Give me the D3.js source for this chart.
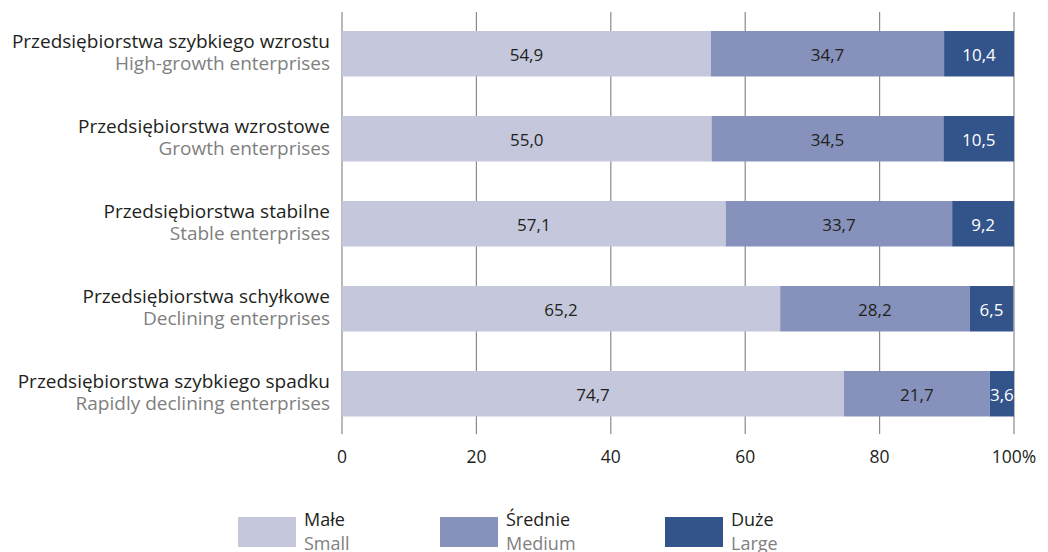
<!DOCTYPE html>
<html>
<head>
<meta charset="utf-8">
<script src="https://cdn.jsdelivr.net/npm/d3@7"></script>
<style>
  body { margin: 0; background: #fff; }
  text { font-family: "Open Sans", sans-serif; }
</style>
</head>
<body>
<div id="root"></div>
<script>
// categories (Polish / English)
var namesPl = ["Przedsiębiorstwa szybkiego wzrostu", "Przedsiębiorstwa wzrostowe", "Przedsiębiorstwa stabilne", "Przedsiębiorstwa schyłkowe", "Przedsiębiorstwa szybkiego spadku"];
var namesEn = ["High-growth enterprises", "Growth enterprises", "Stable enterprises", "Declining enterprises", "Rapidly declining enterprises"];

// series values, %
var small = [54.9, 55.0, 57.1, 65.2, 74.7];
var medium = [34.7, 34.5, 33.7, 28.2, 21.7];
var large = [10.4, 10.5, 9.2, 6.5, 3.6];

var seriesPl = ["Małe", "Średnie", "Duże"];
var seriesEn = ["Small", "Medium", "Large"];
var colors = ["#c5c7dc", "#8692bb", "#33538b"];

var xTicks = [0, 20, 40, 60, 80, 100];

var width = 1048, height = 552;
var margin = { top: 12, left: 342, right: 34 };
var plotBottom = 434;

var svg = d3.select("#root")
    .append("svg")
    .attr("width", width)
    .attr("height", height);

var x = d3.scaleLinear()
    .domain([0, 100])
    .range([margin.left, width - margin.right]);

var y = d3.scaleBand()
    .domain(d3.range(namesPl.length))
    .range([11.25, 436.25])
    .paddingInner(0.465)
    .paddingOuter(0.2325);

// grid lines + ticks
svg.append("g")
    .selectAll("line")
    .data(xTicks)
    .join("line")
    .attr("x1", d => x(d))
    .attr("x2", d => x(d))
    .attr("y1", margin.top)
    .attr("y2", plotBottom)
    .attr("stroke", "#8a8a8a")
    .attr("stroke-width", 1.2);

svg.append("g")
    .selectAll("text")
    .data(xTicks)
    .join("text")
    .attr("x", d => x(d))
    .attr("y", 463)
    .attr("text-anchor", "middle")
    .attr("font-size", 17.5)
    .attr("fill", "#231f20")
    .text(d => d === 100 ? "100%" : d);

// stacked rows
var rows = namesPl.map((n, i) => [small[i], medium[i], large[i]]);
var stacked = d3.stack().keys([0, 1, 2])(rows);

var layers = svg.append("g")
    .selectAll("g")
    .data(stacked)
    .join("g")
    .attr("fill", (d, i) => colors[i]);

layers.selectAll("rect")
    .data(d => d)
    .join("rect")
    .attr("x", d => x(d[0]))
    .attr("width", d => x(d[1]) - x(d[0]))
    .attr("y", (d, i) => y(i))
    .attr("height", y.bandwidth());

layers.each(function (layer, k) {
    d3.select(this).selectAll("text")
        .data(layer)
        .join("text")
        .attr("x", d => (x(d[0]) + x(d[1])) / 2)
        .attr("y", (d, i) => y(i) + y.bandwidth() / 2 + 7)
        .attr("text-anchor", "middle")
        .attr("font-size", 17)
        .attr("fill", k === 2 ? "#ffffff" : "#231f20")
        .text(d => d3.format(".1f")(d[1] - d[0]).replace(".", ","));
});

// category labels
var labels = svg.append("g")
    .selectAll("g")
    .data(namesPl)
    .join("g");

labels.append("text")
    .attr("x", margin.left - 12)
    .attr("y", (d, i) => y(i) + y.bandwidth() / 2 - 5.5)
    .attr("text-anchor", "end")
    .attr("font-size", 19)
    .attr("fill", "#231f20")
    .text(d => d);

labels.append("text")
    .attr("x", margin.left - 12)
    .attr("y", (d, i) => y(i) + y.bandwidth() / 2 + 16.5)
    .attr("text-anchor", "end")
    .attr("font-size", 19)
    .attr("fill", "#808080")
    .text((d, i) => namesEn[i]);

// legend
var legendX = [238, 440, 665];
var legend = svg.append("g")
    .selectAll("g")
    .data(seriesPl)
    .join("g")
    .attr("transform", (d, i) => "translate(" + legendX[i] + ",517)");

legend.append("rect")
    .attr("width", 58)
    .attr("height", 30)
    .attr("fill", (d, i) => colors[i]);

legend.append("text")
    .attr("x", 66)
    .attr("y", 9)
    .attr("font-size", 18)
    .attr("fill", "#231f20")
    .text(d => d);

legend.append("text")
    .attr("x", 66)
    .attr("y", 33)
    .attr("font-size", 18)
    .attr("fill", "#808080")
    .text((d, i) => seriesEn[i]);
</script>
</body>
</html>
